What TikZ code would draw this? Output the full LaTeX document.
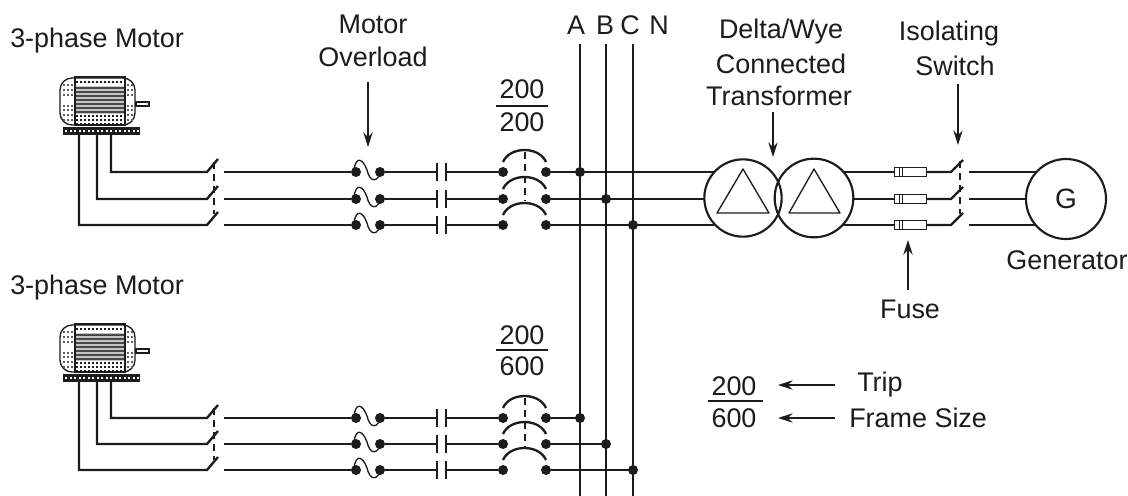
\documentclass[tikz,border=0pt]{standalone}
\usepackage{fontspec}
\setmainfont{Liberation Sans}
\usetikzlibrary{arrows.meta,calc}
\definecolor{ink}{HTML}{1C1C1C}
\tikzset{
  wire/.style={draw=ink,line width=1.75pt},
  thin wire/.style={draw=ink,line width=1pt},
  bus/.style={draw=ink,line width=1.8pt},
  gang/.style={draw=ink,line width=1.7pt,dash pattern=on 5pt off 4pt},
  dotnode/.style={circle,fill=ink,inner sep=0pt,minimum size=7.5pt},
  ring/.style={circle,draw=ink,line width=1.6pt,inner sep=0pt,outer sep=0pt,fill=none},
  label/.style={font=\fontsize{20.2pt}{22pt}\selectfont,text=ink,inner sep=0pt},
  callout/.style={draw=ink,line width=.9pt,-{Stealth[length=11pt,width=7pt]}},
  fusebox/.style={draw=ink,line width=.9pt,fill=white,minimum width=24pt,minimum height=7pt,inner sep=0pt,outer sep=0pt},
  motor/.pic={
    \draw[ink,line width=1pt,rounded corners=9pt] (60,78) rectangle (135,125);
    \fill[ink!25] (75,86) rectangle (125,114);
    \foreach \yy in {88,92,96,100,104,108,112} \draw[ink!80,line width=1pt] (75,\yy) -- (125,\yy);
    \draw[ink,line width=1.2pt] (75,77) rectangle (125,125);
    \foreach \xx in {77,81,...,124} {
      \foreach \yy in {82,116,120,124} \fill[ink] (\xx-1.4,\yy-1.4) rectangle (\xx+1.4,\yy+1.4);
    }
    \foreach \xx in {64,68,72,128,132} {
      \foreach \yy in {85,90,95,106,110,115,120} \fill[ink!70] (\xx-1,\yy-1) rectangle (\xx+1,\yy+1);
    }
    \draw[ink,line width=.9pt,fill=white] (136,102) rectangle (149,106);
    \fill[ink] (63,127) rectangle (140,135);
    \foreach \xx in {66,70.5,...,138} \fill[white] (\xx-1,129.5) rectangle (\xx+1,132);
  }
}
% #1 name, #2 y, #3 lead x, #4 lead top y, #5 target node or anchor
\newcommand{\branch}[5]{%
  \coordinate (#1lead) at (#3,#4);
  \coordinate (#1corner) at (#3,#2);
  \coordinate (#1hinge) at (207,#2);
  \coordinate (#1tip) at (218,#2-13);
  \coordinate (#1gap) at (224,#2);
  \node[dotnode] (#1ol) at (356,#2) {};
  \node[dotnode] (#1or) at (380,#2) {};
  \coordinate (#1capl) at (437,#2);
  \coordinate (#1capr) at (446,#2);
  \node[dotnode] (#1bl) at (503,#2) {};
  \node[dotnode] (#1br) at (546,#2) {};
  \draw[wire,line join=miter] (#1lead) -- (#1corner) -- (#1hinge) -- (#1tip);
  \draw[wire] (#1gap) -- (#1ol);
  \draw[thin wire] (354,#2-2) .. controls (356,#2-17) and (363,#2-13) .. (367,#2-2) .. controls (370,#2+11) and (378,#2+11) .. (381,#2-2);
  \draw[wire] (#1or) -- (#1capl);
  \draw[wire] (437,#2-9) -- (437,#2+9);
  \draw[wire] (446,#2-9) -- (446,#2+9);
  \draw[wire] (#1capr) -- (#1bl);
  \draw[wire] (503,#2-10) .. controls (510,#2-26) and (539,#2-26) .. (546,#2-10);
  \draw[wire] (#1br) -- (#5 |- #1br);
}
\begin{document}
\begin{tikzpicture}[x=.75pt,y=-.75pt]
\useasboundingbox (0,0) rectangle (1128,496);
\fill[white] (0,0) rectangle (1128,496);

% buses
\coordinate (Atop) at (580,44); \coordinate (Abot) at (580,496);
\coordinate (Btop) at (606,44); \coordinate (Bbot) at (606,496);
\coordinate (Ctop) at (633,44); \coordinate (Cbot) at (633,496);
\draw[bus] (Atop) -- (Abot);
\draw[bus] (Btop) -- (Bbot);
\draw[bus] (Ctop) -- (Cbot);
\node[label] (lA) at (576,25) {A};
\node[label] (lB) at (605,25) {B};
\node[label] (lC) at (630,25) {C};
\node[label] (lN) at (659,25) {N};

% transformer and generator
\node[ring,minimum size=58pt] (T1) at (743,198) {};
\node[ring,minimum size=59pt] (T2) at (814,198) {};
\node[ring,minimum size=60pt,font=\fontsize{21pt}{22pt}\selectfont,text=ink] (G) at (1066,199) {G};
\draw[ink,line width=1pt,line join=round] (743,169) -- (769,213) -- (717,213) -- cycle;
\draw[ink,line width=1pt,line join=round] (814,169) -- (840,213) -- (789,213) -- cycle;

% motors
\pic (m1) at (0,0) {motor};
\pic (m2) at (0,247) {motor};

% bus tap dots
\node[dotnode] (a1) at (580,172) {};
\node[dotnode] (b1) at (606,199) {};
\node[dotnode] (c1) at (633,225) {};
\node[dotnode] (a2) at (580,418) {};
\node[dotnode] (b2) at (606,444) {};
\node[dotnode] (c2) at (633,470) {};

% branches
\branch{pa}{172}{111}{134}{T1.138}
\branch{pb}{199}{97}{134}{T1.180}
\branch{pc}{225}{79}{134}{T1.222}
\branch{qa}{418}{111}{381}{a2}
\branch{qb}{444}{97}{381}{b2}
\branch{qc}{470}{79}{381}{c2}

% ganged dashes
\draw[gang] (214,162) -- (214,214);
\draw[gang] (214,408) -- (214,460);
\draw[gang] (525,152) -- (525,201);
\draw[gang] (525,398) -- (525,447);
\draw[gang] (960,161) -- (960,214);

% right side: fuses, isolating switch, generator
\foreach \n/\yy/\tl/\gl in {a/172/T2.42/G.138,b/199/T2.0/G.180,c/225/T2.-42/G.222}{
  \node[fusebox] (f\n) at (910.5,\yy) {};
  \draw[ink,line width=.7pt] (899,\yy-4.5) -- (899,\yy+4.5) (902,\yy-4.5) -- (902,\yy+4.5);
  \coordinate (h\n) at (951,\yy);
  \coordinate (t\n) at (963,\yy-12);
  \coordinate (s\n) at (969,\yy);
  \draw[wire] (\tl |- f\n.west) -- (f\n.west);
  \draw[wire] (f\n.east) -- (h\n) -- (t\n);
  \draw[wire] (s\n) -- (\gl |- s\n);
}

% labels
\node[label,anchor=west] (mt1) at (10,41) {3-phase Motor};
\node[label,anchor=west] (mt2) at (10,288) {3-phase Motor};
\node[label] (ov1) at (373,24) {Motor};
\node[label] (ov2) at (373,57) {Overload};
\node[label] (dw1) at (781,32) {Delta/Wye};
\node[label] (dw2) at (781,64) {Connected};
\node[label] (dw3) at (779,96) {Transformer};
\node[label] (is1) at (949,34) {Isolating};
\node[label] (is2) at (955,66) {Switch};
\node[label] (gen) at (1067,260) {Generator};
\node[label] (fu) at (910,309) {Fuse};

% ratings
\node[label] (r1a) at (522,89) {200};
\node[label] (r1b) at (522,122) {200};
\draw[wire] (496,106) -- (548,106);
\node[label] (r2a) at (522,335) {200};
\node[label] (r2b) at (522,366) {600};
\draw[wire] (496,350) -- (548,350);
\node[label] (k1) at (734,386) {200};
\node[label] (k2) at (734,418) {600};
\draw[wire] (708,401) -- (763,401);
\node[label,anchor=west] (trip) at (857,385) {Trip};
\node[label,anchor=west] (frame) at (849,418) {Frame Size};

% callouts
\coordinate (c1s) at (368,82); \coordinate (c1e) at (368,147);
\coordinate (c2s) at (773,112); \coordinate (c2e) at (773,157);
\coordinate (c3s) at (958,84); \coordinate (c3e) at (958,145);
\coordinate (c4s) at (908,290); \coordinate (c4e) at (908,240);
\coordinate (c5s) at (835,385); \coordinate (c5e) at (778,385);
\coordinate (c6s) at (835,418); \coordinate (c6e) at (778,418);
\draw[callout] (c1s) -- (c1e);
\draw[callout] (c2s) -- (c2e);
\draw[callout] (c3s) -- (c3e);
\draw[callout] (c4s) -- (c4e);
\draw[callout] (c5s) -- (c5e);
\draw[callout] (c6s) -- (c6e);
\end{tikzpicture}
\end{document}
